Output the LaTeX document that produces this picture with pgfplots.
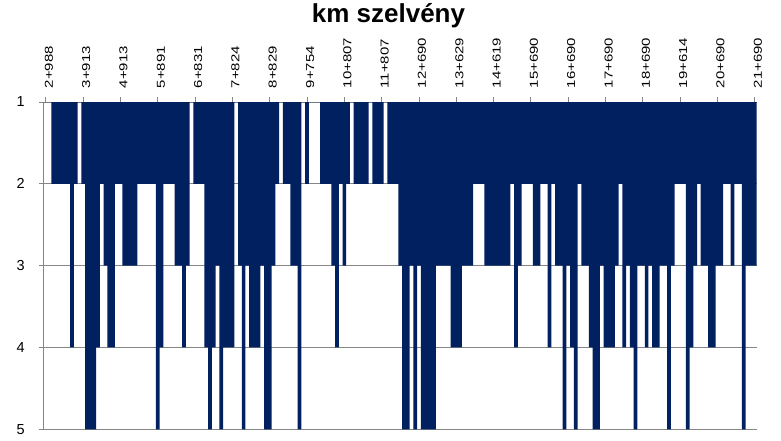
\documentclass[border=0pt]{standalone}
\usepackage{fontspec}
\setmainfont{Liberation Sans}
\usepackage{graphicx}
\usepackage{pgfplots}
\pgfplotsset{compat=1.18}
\definecolor{barblue}{RGB}{0,32,96}
\definecolor{gridgray}{RGB}{134,134,134}
\newcommand{\xl}[1]{\scalebox{1.3}[1]{#1}}
\begin{document}
\begin{tikzpicture}
\useasboundingbox (-44pt,-11.7pt) rectangle (737pt,429.3pt);
\begin{axis}[
  at={(0pt,0pt)}, anchor=south west,
  scale only axis, width=712.7pt, height=327.3pt,
  xmin=-0.5, xmax=190.5, ymin=1, ymax=5,
  y dir=reverse,
  axis x line*=top, axis y line*=left,
  axis line style={gridgray, line width=1pt, -},
  xtick={0,10,...,190},
  xticklabels={\xl{2+988},\xl{3+913},\xl{4+913},\xl{5+891},\xl{6+831},\xl{7+824},\xl{8+829},\xl{9+754},\xl{10+807},\xl{11+807},\xl{12+690},\xl{13+629},\xl{14+619},\xl{15+690},\xl{16+690},\xl{17+690},\xl{18+690},\xl{19+614},\xl{20+690},\xl{21+690}},
  xticklabel style={font=\fontsize{11.5}{12}\selectfont, xshift=3pt, rotate=90, anchor=west, inner sep=0pt},
  xticklabel shift=8.5pt,
  ytick={1,2,3,4,5},
  yticklabels={1,2,3,4,5},
  yticklabel style={font=\fontsize{14.5}{16}\selectfont, anchor=east, inner sep=0pt},
  yticklabel shift=14pt,
  ymajorgrids, major grid style={gridgray, line width=1pt},
  tick style={gridgray, line width=1pt},
  major tick length=5pt, tick align=outside,
  title={km szelvény},
  title style={font=\fontsize{26}{30}\selectfont\bfseries, at={(axis description cs:0.4834,1)}, anchor=base, yshift=74pt},
  clip=true,
]
\addplot[fill=barblue, draw=none, const plot mark mid] coordinates {
(-0.5,1)(0,1)(1,1)(2,2)(3,2)(4,2)(5,2)(6,2)(7,4)(8,2)(9,1)
(10,2)(11,5)(12,5)(13,5)(14,4)(15,2)(16,3)(17,4)(18,4)(19,2)
(20,2)(21,3)(22,3)(23,3)(24,3)(25,2)(26,2)(27,2)(28,2)(29,2)
(30,5)(31,4)(32,2)(33,2)(34,2)(35,3)(36,3)(37,4)(38,3)(39,1)
(40,2)(41,2)(42,2)(43,4)(44,5)(45,4)(46,3)(47,5)(48,4)(49,4)
(50,4)(51,1)(52,3)(53,5)(54,3)(55,4)(56,4)(57,4)(58,3)(59,5)
(60,5)(61,3)(62,2)(63,1)(64,2)(65,2)(66,3)(67,3)(68,5)(69,1)
(70,2)(71,1)(72,1)(73,1)(74,2)(75,2)(76,2)(77,3)(78,4)(79,2)
(80,3)(81,2)(82,1)(83,2)(84,2)(85,2)(86,2)(87,1)(88,2)(89,2)
(90,2)(91,1)(92,2)(93,2)(94,2)(95,3)(96,5)(97,5)(98,3)(99,5)
(100,3)(101,5)(102,5)(103,5)(104,5)(105,3)(106,3)(107,3)(108,3)(109,4)
(110,4)(111,4)(112,3)(113,3)(114,3)(115,2)(116,2)(117,2)(118,3)(119,3)
(120,3)(121,3)(122,3)(123,3)(124,3)(125,2)(126,4)(127,3)(128,2)(129,2)
(130,2)(131,3)(132,3)(133,2)(134,2)(135,4)(136,2)(137,3)(138,3)(139,5)
(140,3)(141,4)(142,5)(143,2)(144,3)(145,3)(146,4)(147,5)(148,5)(149,3)
(150,4)(151,4)(152,4)(153,3)(154,2)(155,4)(156,3)(157,4)(158,5)(159,3)
(160,3)(161,4)(162,3)(163,4)(164,4)(165,3)(166,3)(167,5)(168,3)(169,2)
(170,2)(171,2)(172,5)(173,4)(174,3)(175,2)(176,3)(177,3)(178,4)(179,4)
(180,3)(181,3)(182,2)(183,2)(184,3)(185,2)(186,2)(187,5)(188,3)(189,3)
(190,3)(190.5,3)
} \closedcycle;
\end{axis}
\end{tikzpicture}
\end{document}
